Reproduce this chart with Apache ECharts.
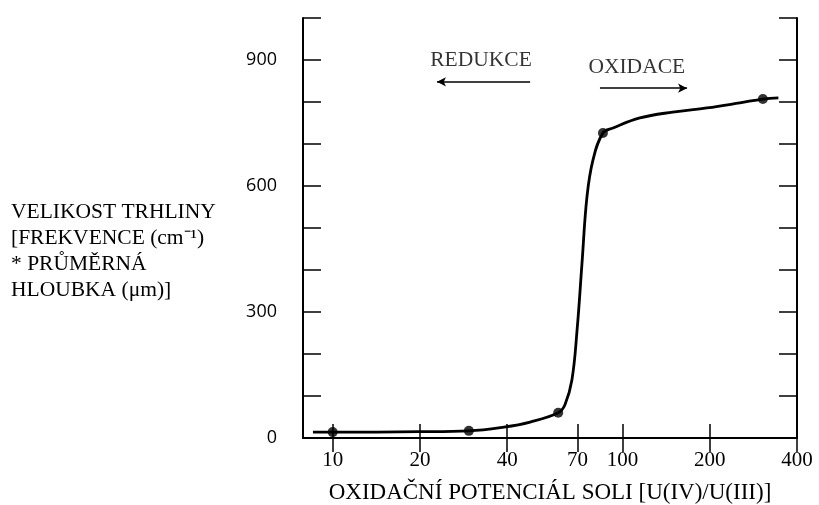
<!DOCTYPE html>
<html><head><meta charset="utf-8">
<script src="https://cdn.jsdelivr.net/npm/echarts@6/dist/echarts.min.js"></script>
<style>html,body{margin:0;padding:0;background:#fff}#c{width:819px;height:505px}</style>
</head><body><div id="c"></div>
<script>
// measured points (x: U(IV)/U(III), y: crack size)
var pointX = [10, 29.5, 60, 85.6, 305];
var pointY = [14, 17, 60, 726, 807];
// curve
var curveX = [8.55, 10, 20, 29.5, 39, 48, 60, 63.3, 66.9, 69.7, 72.5, 75.4, 79.1, 85.6, 92.8, 114.8, 149, 195.6, 254, 305, 345];
var curveY = [14, 14, 15, 17, 26, 38, 60, 79, 138, 257, 417, 574, 662, 726, 738, 762, 776, 786, 798, 807, 810];
var xTicks = [10, 20, 40, 70, 100, 200, 400];
var yTickLabels = [0, 300, 600, 900];
// annotations
var annoText = ['REDUKCE', 'OXIDACE'];
var annoX = [32.5, 112];
var annoY = [898, 883];
var arrowFrom = [[48, 848], [83.6, 833]];
var arrowTo = [[22.9, 848], [167, 833]];

var serif = 'Liberation Serif';
var chart = echarts.init(document.getElementById('c'), null, {renderer: 'canvas'});
function pairs(a, b) { return a.map(function (v, i) { return [v, b[i]]; }); }
var axLine = {show: true, lineStyle: {color: '#000', width: 2}};
var xTick = {show: true, inside: true, length: 14, customValues: xTicks, lineStyle: {color: '#000', width: 1.5}};
var yTick = {show: true, inside: true, length: 18, lineStyle: {color: '#000', width: 1.5}};
chart.setOption({
  animation: false,
  backgroundColor: '#fff',
  grid: {left: 303, right: 22, top: 18, bottom: 67, containLabel: false, outerBoundsMode: 'none'},
  xAxis: [{
    type: 'log', logBase: 10, min: 7.9, max: 400,
    axisLine: axLine,
    axisTick: xTick,
    axisLabel: {customValues: xTicks, color: '#000', fontFamily: serif, fontSize: 21, margin: 12, showMinLabel: true, showMaxLabel: true},
    splitLine: {show: false},
    name: 'OXIDAČNÍ POTENCIÁL SOLI [U(IV)/U(III)]',
    nameLocation: 'middle', nameGap: 43,
    nameTextStyle: {color: '#000', fontFamily: serif, fontSize: 23}
  }, {
    type: 'log', logBase: 10, min: 7.9, max: 400, position: 'top',
    axisLine: axLine,
    axisTick: xTick,
    axisLabel: {show: false},
    splitLine: {show: false}
  }],
  yAxis: [{
    type: 'value', min: 0, max: 1000, interval: 100,
    axisLine: axLine,
    axisTick: yTick,
    axisLabel: {color: '#000', fontFamily: 'Open Sans', fontSize: 18, margin: 26,
      formatter: function (v) { return yTickLabels.indexOf(v) >= 0 ? String(v) : ''; }},
    splitLine: {show: false}
  }, {
    type: 'value', min: 0, max: 1000, interval: 100, position: 'right',
    axisLine: axLine,
    axisTick: yTick,
    axisLabel: {show: false},
    splitLine: {show: false}
  }],
  graphic: [{
    type: 'text', left: 11, top: 199,
    style: {
      text: 'VELIKOST TRHLINY\n[FREKVENCE (cm⁻¹)\n* PRŮMĚRNÁ\nHLOUBKA (μm)]',
      font: '21.5px "Liberation Serif"', fill: '#000', lineHeight: 26
    }
  }],
  series: [{
    type: 'line', data: pairs(curveX, curveY), smooth: 0.4, showSymbol: false,
    lineStyle: {color: '#000', width: 2.8}, silent: true,
    markLine: {
      silent: true, symbol: ['none', 'arrow'], symbolSize: [7, 9],
      label: {show: false},
      lineStyle: {color: '#000', width: 1.6, type: 'solid'},
      data: arrowFrom.map(function (f, i) { return [{coord: f}, {coord: arrowTo[i]}]; })
    }
  }, {
    type: 'scatter', data: pairs(pointX, pointY), symbolSize: 10,
    itemStyle: {color: '#000'}, silent: true
  }, {
    type: 'scatter', data: annoX.map(function (x, i) { return [x, annoY[i], annoText[i]]; }),
    symbolSize: 0, silent: true,
    label: {show: true, position: 'inside', formatter: function (p) { return p.data[2]; },
      color: '#000', fontFamily: serif, fontSize: 21.5}
  }]
});
</script></body></html>
